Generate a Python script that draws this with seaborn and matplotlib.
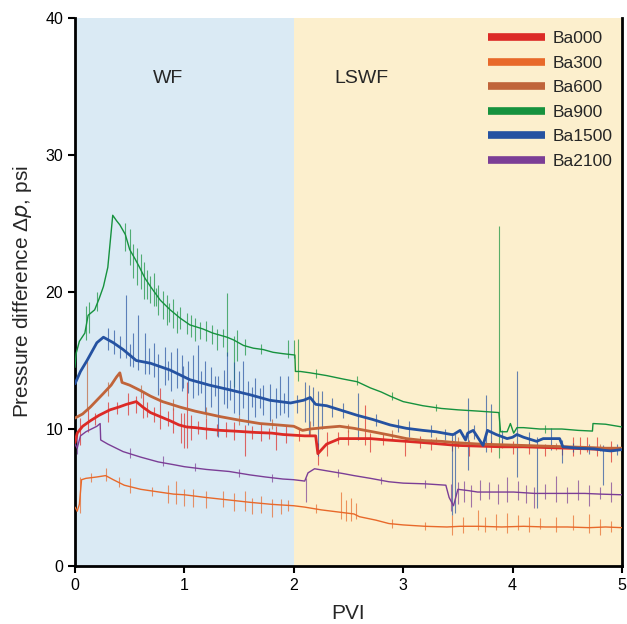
import matplotlib
matplotlib.use("Agg")
import matplotlib.pyplot as plt
from matplotlib.lines import Line2D
import seaborn as sns
import pandas as pd

# --- data (PVI vs pressure difference, psi) ---
ba000_x = [0.00, 0.02, 0.07, 0.14, 0.22, 0.32, 0.40, 0.47, 0.56, 0.62, 0.69, 0.78, 0.87, 0.95, 1.02,
           1.10, 1.20, 1.33, 1.45, 1.55, 1.65, 1.80, 1.90, 2.00, 2.10, 2.20, 2.22, 2.30, 2.42, 2.55,
           2.70, 2.85, 3.03, 3.20, 3.35, 3.50, 3.70, 3.90, 4.10, 4.30, 4.50, 4.70, 4.85, 5.00]
ba000_y = [9.0, 9.7, 10.2, 10.6, 11.0, 11.4, 11.6, 11.8, 12.0, 11.6, 11.2, 10.9, 10.6, 10.3, 10.15,
           10.1, 10.0, 9.9, 9.85, 9.8, 9.75, 9.7, 9.6, 9.55, 9.5, 9.5, 8.2, 8.9, 9.3, 9.3,
           9.3, 9.2, 9.1, 9.0, 8.9, 8.8, 8.75, 8.7, 8.7, 8.65, 8.6, 8.55, 8.5, 8.5]

ba300_x = [0.00, 0.02, 0.04, 0.06, 0.10, 0.20, 0.28, 0.35, 0.45, 0.60, 0.77, 0.90, 1.00, 1.20, 1.43,
           1.60, 1.80, 2.00, 2.10, 2.25, 2.40, 2.55, 2.60, 2.75, 2.87, 3.00, 3.20, 3.40, 3.52, 3.70,
           3.90, 4.10, 4.30, 4.50, 4.70, 4.85, 5.00]
ba300_y = [4.3, 4.0, 4.5, 6.3, 6.4, 6.5, 6.6, 6.3, 5.9, 5.6, 5.4, 5.25, 5.2, 5.0, 4.8,
           4.65, 4.5, 4.4, 4.3, 4.1, 3.95, 3.8, 3.6, 3.35, 3.1, 3.0, 2.9, 2.85, 2.9, 2.9,
           2.85, 2.9, 2.85, 2.85, 2.8, 2.85, 2.8]

ba600_x = [0.00, 0.07, 0.14, 0.20, 0.26, 0.33, 0.38, 0.41, 0.43, 0.50, 0.60, 0.69, 0.80, 0.96, 1.10,
           1.33, 1.50, 1.69, 1.85, 2.00, 2.08, 2.15, 2.27, 2.42, 2.55, 2.72, 2.88, 3.03, 3.20, 3.35,
           3.49, 3.70, 3.90, 4.10, 4.30, 4.50, 4.70, 4.85, 5.00]
ba600_y = [10.8, 11.1, 11.6, 12.1, 12.6, 13.2, 13.8, 14.1, 13.4, 13.2, 12.8, 12.4, 12.0, 11.6, 11.3,
           10.9, 10.65, 10.4, 10.3, 10.2, 9.9, 10.0, 10.1, 10.2, 10.05, 9.8, 9.55, 9.3, 9.15, 9.1,
           9.0, 8.9, 8.85, 8.8, 8.75, 8.7, 8.65, 8.6, 8.6]

ba900_x = [0.00, 0.01, 0.04, 0.09, 0.12, 0.18, 0.22, 0.26, 0.30, 0.345, 0.38, 0.41, 0.46, 0.50, 0.55,
           0.59, 0.64, 0.69, 0.78, 0.87, 0.96, 1.05, 1.17, 1.26, 1.39, 1.45, 1.54, 1.63, 1.72, 1.81,
           1.90, 2.01, 2.015, 2.06, 2.15, 2.30, 2.45, 2.58, 2.70, 2.80, 2.88, 3.00, 3.18, 3.35, 3.50,
           3.70, 3.875, 3.89, 3.95, 3.98, 4.01, 4.04, 4.10, 4.25, 4.45, 4.60, 4.73, 4.735,
           4.85, 5.00]
ba900_y = [14.5, 15.5, 16.4, 17.0, 18.3, 18.7, 19.5, 20.4, 21.8, 25.6, 25.2, 24.9, 24.2, 23.1, 22.4,
           21.8, 21.0, 20.4, 19.4, 18.7, 18.1, 17.6, 17.3, 17.0, 16.7, 16.5, 16.1, 15.9, 15.8, 15.6,
           15.5, 15.4, 14.2, 14.2, 14.1, 13.9, 13.65, 13.45, 13.0, 12.7, 12.4, 12.0, 11.7, 11.5, 11.4,
           11.3, 11.2, 9.8, 9.8, 10.4, 9.7, 10.1, 10.1, 10.0, 10.0, 9.9, 9.85, 10.4,
           10.35, 10.15]

ba1500_x = [0.00, 0.05, 0.11, 0.20, 0.26, 0.35, 0.44, 0.56, 0.69, 0.87, 1.05, 1.23, 1.42, 1.60, 1.78,
            1.97, 2.09, 2.15, 2.20, 2.30, 2.42, 2.58, 2.72, 2.88, 3.03, 3.18, 3.30, 3.44, 3.46, 3.52,
            3.57, 3.59, 3.64, 3.73, 3.77, 3.85, 3.95, 4.00, 4.04, 4.10, 4.22, 4.28, 4.43, 4.46, 4.60,
            4.75, 4.83, 4.90, 5.00]
ba1500_y = [13.3, 14.2, 15.0, 16.3, 16.7, 16.3, 15.8, 15.0, 14.8, 14.3, 13.6, 13.2, 12.85, 12.5, 12.1,
            11.9, 12.1, 12.3, 11.8, 11.7, 11.4, 11.0, 10.7, 10.3, 10.05, 9.9, 9.8, 9.6, 9.6, 9.9,
            9.2, 9.7, 9.9, 8.8, 9.9, 9.6, 9.3, 9.4, 9.6, 9.4, 9.1, 9.3, 9.3, 8.7, 8.6,
            8.55, 8.45, 8.4, 8.5]

ba2100_x = [0.00, 0.02, 0.05, 0.10, 0.15, 0.20, 0.23, 0.235, 0.30, 0.44, 0.60, 0.76, 0.90, 1.00, 1.20,
            1.41, 1.60, 1.74, 1.90, 2.00, 2.10, 2.13, 2.19, 2.30, 2.45, 2.55, 2.70, 2.87, 3.00, 3.20,
            3.39, 3.42, 3.46, 3.50, 3.60, 3.68, 3.85, 4.01, 4.20, 4.33, 4.50, 4.66, 4.80, 5.00]
ba2100_y = [8.9, 8.6, 9.5, 9.8, 10.0, 10.2, 10.4, 9.2, 8.9, 8.35, 7.95, 7.6, 7.4, 7.25, 7.05,
            6.9, 6.65, 6.5, 6.35, 6.3, 6.2, 6.8, 7.1, 6.95, 6.75, 6.6, 6.4, 6.15, 6.05, 6.0,
            5.9, 5.0, 4.4, 5.6, 5.5, 5.4, 5.4, 5.4, 5.3, 5.3, 5.3, 5.3, 5.25, 5.2]

# spikes / noise (x, low, high)
ba000_spikes = [(0.05, 8.8, 10.8), (0.12, 9.8, 11.5), (0.18, 10.3, 11.2), (0.30, 10.5, 12.0),
                (0.38, 11.1, 12.0), (0.48, 11.0, 12.6), (0.56, 11.2, 12.4), (0.62, 10.8, 12.8),
                (0.66, 10.9, 12.0), (0.72, 10.5, 11.6), (0.78, 10.0, 13.0), (0.85, 10.2, 11.3),
                (0.90, 9.7, 11.5), (0.97, 9.0, 11.2), (1.00, 8.6, 11.2), (1.02, 8.6, 13.45),
                (1.06, 9.2, 11.0), (1.12, 9.6, 10.6), (1.20, 9.3, 10.8), (1.30, 9.5, 10.4),
                (1.38, 9.4, 10.5), (1.45, 9.2, 10.5), (1.55, 8.0, 10.3), (1.62, 9.3, 10.2),
                (1.70, 9.1, 10.4), (1.77, 9.3, 10.1), (1.84, 8.5, 10.2), (1.93, 9.0, 10.2),
                (2.05, 9.1, 10.0), (2.22, 7.4, 9.0), (2.30, 8.0, 9.8), (2.40, 8.9, 9.8),
                (2.50, 8.8, 9.9), (2.65, 8.8, 11.75), (2.70, 8.3, 9.7), (2.82, 8.8, 9.6),
                (3.02, 8.0, 9.4), (3.15, 8.6, 9.5), (3.25, 8.5, 9.3), (3.45, 8.4, 9.2),
                (3.60, 8.0, 9.2), (3.80, 8.3, 9.1), (4.00, 8.2, 9.1), (4.15, 8.2, 9.0),
                (4.30, 8.0, 8.9), (4.45, 8.1, 8.9), (4.55, 8.0, 9.4), (4.62, 8.2, 9.4),
                (4.68, 8.3, 9.4), (4.77, 8.0, 9.4), (4.90, 7.6, 9.1)]
ba300_spikes = [(0.05, 3.9, 6.5), (0.15, 6.1, 6.8), (0.28, 6.2, 7.15), (0.40, 5.8, 6.5),
                (0.50, 5.3, 6.4), (0.70, 5.1, 5.8), (0.85, 4.6, 5.9), (0.92, 4.5, 6.2),
                (1.00, 4.4, 5.6), (1.08, 4.3, 5.6), (1.20, 4.2, 5.5), (1.35, 4.3, 5.5),
                (1.45, 4.0, 5.3), (1.55, 4.0, 5.5), (1.62, 3.8, 5.0), (1.70, 3.9, 5.1),
                (1.80, 3.6, 4.9), (1.88, 3.8, 4.9), (1.95, 4.0, 4.8), (2.20, 3.9, 4.5),
                (2.43, 3.4, 5.4), (2.48, 3.3, 4.8), (2.52, 3.3, 5.0), (2.57, 3.4, 4.6),
                (2.90, 2.8, 3.4), (3.20, 2.6, 3.2), (3.45, 2.3, 3.7), (3.55, 2.4, 3.6),
                (3.68, 2.6, 4.1), (3.75, 2.5, 3.6), (3.85, 2.6, 3.8), (3.95, 2.4, 3.9),
                (4.05, 2.6, 3.7), (4.15, 2.5, 3.6), (4.25, 2.7, 3.5), (4.40, 2.5, 3.6),
                (4.55, 2.6, 3.7), (4.70, 2.4, 3.8), (4.80, 2.3, 3.4), (4.90, 2.5, 3.3)]
ba600_spikes = [(0.11, 11.5, 15.0), (0.30, 12.4, 13.4), (0.60, 12.3, 13.2), (0.90, 11.4, 12.2),
                (1.20, 10.8, 11.6), (1.50, 10.3, 11.0), (1.80, 10.0, 10.7), (2.15, 9.5, 10.6),
                (2.50, 9.8, 10.4), (2.90, 9.3, 9.9), (3.30, 8.9, 9.4), (3.50, 8.6, 9.4),
                (3.90, 8.6, 9.1), (4.40, 8.5, 9.0), (4.80, 8.4, 8.9)]
ba900_spikes = [(0.10, 16.5, 19.0), (0.13, 17.0, 19.3), (0.20, 18.6, 20.0), (0.46, 23.0, 25.0),
                (0.50, 22.0, 24.6), (0.53, 21.0, 23.5), (0.57, 20.5, 23.2), (0.60, 20.2, 22.8),
                (0.63, 19.5, 22.2), (0.66, 19.5, 21.6), (0.69, 19.2, 21.2), (0.72, 19.0, 21.4),
                (0.74, 19.0, 20.3), (0.76, 18.3, 20.5), (0.80, 18.0, 20.1), (0.84, 17.6, 19.8),
                (0.86, 17.8, 19.2), (0.90, 17.4, 19.5), (0.93, 17.0, 18.6), (0.96, 17.3, 18.9),
                (1.02, 16.9, 18.5), (1.06, 16.7, 18.3), (1.10, 16.4, 18.1), (1.14, 16.6, 17.8),
                (1.20, 16.4, 17.9), (1.25, 16.2, 17.6), (1.30, 15.8, 17.3), (1.35, 16.0, 17.3),
                (1.39, 15.3, 19.9), (1.45, 13.1, 16.8), (1.48, 15.0, 17.2), (1.55, 15.4, 16.6),
                (1.70, 15.5, 16.2), (1.95, 15.2, 16.5), (2.00, 15.2, 16.5), (2.04, 13.5, 16.6),
                (2.20, 13.7, 14.4), (2.58, 13.2, 13.9), (2.90, 12.1, 12.7), (3.30, 11.3, 11.8),
                (3.88, 7.9, 24.8), (4.30, 9.7, 10.3)]
ba1500_spikes = [(0.30, 15.8, 17.4), (0.36, 15.5, 17.2), (0.41, 15.2, 16.8), (0.47, 15.2, 19.8),
                 (0.50, 14.6, 16.2), (0.53, 14.5, 17.0), (0.58, 14.3, 18.3), (0.64, 14.0, 17.0),
                 (0.68, 14.0, 15.9), (0.72, 13.8, 16.3), (0.76, 12.5, 15.5), (0.82, 13.2, 16.0),
                 (0.85, 13.6, 15.0), (0.88, 12.8, 15.6), (0.93, 13.0, 15.9), (0.975, 12.8, 15.4),
                 (0.99, 13.0, 14.6), (1.03, 12.6, 15.0), (1.08, 12.3, 15.4), (1.12, 12.5, 16.1),
                 (1.15, 12.6, 14.2), (1.19, 11.2, 15.0), (1.24, 11.6, 14.5), (1.28, 12.4, 13.9),
                 (1.31, 9.4, 13.9), (1.36, 11.8, 14.3), (1.39, 11.5, 15.6), (1.42, 12.1, 13.6),
                 (1.45, 11.2, 14.9), (1.50, 11.0, 14.2), (1.54, 11.5, 15.0), (1.58, 10.3, 13.5),
                 (1.62, 11.6, 13.1), (1.65, 10.9, 13.7), (1.69, 11.5, 13.0), (1.72, 11.0, 13.2),
                 (1.78, 10.6, 13.3), (1.84, 10.8, 13.0), (1.87, 11.0, 13.9), (1.91, 11.2, 12.6),
                 (1.95, 10.9, 13.9), (2.03, 11.2, 12.5), (2.10, 10.5, 13.45), (2.14, 9.5, 13.2),
                 (2.18, 10.2, 13.1), (2.22, 8.0, 12.8), (2.26, 10.0, 12.8), (2.35, 10.9, 12.3),
                 (2.45, 10.8, 11.9), (2.59, 9.2, 12.6), (2.75, 10.2, 11.1), (2.95, 9.8, 10.7),
                 (3.05, 9.4, 10.6), (3.25, 9.4, 10.3), (3.38, 9.2, 10.0), (3.45, 3.7, 9.6),
                 (3.47, 3.9, 9.6), (3.59, 7.0, 12.3), (3.65, 9.3, 10.3), (3.76, 8.3, 12.5),
                 (3.80, 8.8, 11.8), (3.90, 9.0, 9.9), (4.04, 6.5, 14.2), (4.15, 8.9, 9.8),
                 (4.22, 4.2, 9.4), (4.35, 8.5, 10.1), (4.45, 7.5, 9.2), (4.55, 8.3, 9.0),
                 (4.70, 8.2, 8.9), (4.83, 5.9, 8.8), (4.95, 8.1, 8.9)]
ba2100_spikes = [(0.02, 8.2, 9.6), (0.50, 7.9, 8.6), (0.80, 7.3, 8.0), (1.10, 6.9, 7.5),
                 (1.50, 6.5, 7.1), (1.80, 6.1, 6.7), (2.11, 4.7, 6.4), (2.40, 6.5, 7.1),
                 (2.80, 6.0, 6.5), (3.20, 5.7, 6.3), (3.44, 4.0, 6.0), (3.50, 4.5, 6.1),
                 (3.56, 4.7, 6.2), (3.62, 4.3, 5.9), (3.70, 4.8, 6.3), (3.78, 4.9, 6.1),
                 (3.87, 4.5, 6.0), (3.95, 4.7, 6.5), (4.05, 4.8, 6.2), (4.12, 4.6, 5.9),
                 (4.20, 4.2, 5.8), (4.30, 4.9, 6.0), (4.40, 4.7, 6.6), (4.50, 4.6, 5.8),
                 (4.60, 4.8, 6.3), (4.70, 4.4, 5.9), (4.80, 4.9, 5.8), (4.90, 4.7, 6.1)]

labels = ["Ba000", "Ba300", "Ba600", "Ba900", "Ba1500", "Ba2100"]
colors = ["#dc2a26", "#e8692a", "#c0643a", "#16923e", "#2552a1", "#7b3e96"]
widths = [2.0, 1.0, 2.0, 1.0, 2.0, 1.0]

series_x = [ba000_x, ba300_x, ba600_x, ba900_x, ba1500_x, ba2100_x]
series_y = [ba000_y, ba300_y, ba600_y, ba900_y, ba1500_y, ba2100_y]
series_spikes = [ba000_spikes, ba300_spikes, ba600_spikes, ba900_spikes, ba1500_spikes, ba2100_spikes]

# tabel panjang buat seaborn
frames = []
for lab, xs, ys in zip(labels, series_x, series_y):
    frames.append(pd.DataFrame({"PVI": xs, "dp": ys, "series": lab}))
df = pd.concat(frames, ignore_index=True)

sns.set_theme(style="ticks")
plt.rcParams["font.family"] = ["Liberation Sans", "DejaVu Sans"]

fig = plt.figure(figsize=(6.27, 6.24), dpi=100)
ax = fig.add_axes([0.1196, 0.0929, 0.8724, 0.8783])

# latar belakang WF / LSWF
ax.axvspan(0, 2, color="#daeaf4", lw=0, zorder=0)
ax.axvspan(2, 5, color="#fcefcd", lw=0, zorder=0)

# spikes dulu (lebih tipis), baru garis utama
for lab, col, spk in zip(labels, colors, series_spikes):
    sx = [s[0] for s in spk]
    lo = [s[1] for s in spk]
    hi = [s[2] for s in spk]
    ax.vlines(sx, lo, hi, colors=col, lw=0.8, alpha=0.7, zorder=2)

for lab, col, lw in zip(labels, colors, widths):
    sns.lineplot(data=df[df["series"] == lab], x="PVI", y="dp", color=col, lw=lw,
                 sort=False, estimator=None, ax=ax, zorder=3, legend=False)

ax.set_xlim(0, 5)
ax.set_ylim(0, 40)
ax.set_xticks([0, 1, 2, 3, 4, 5])
ax.set_yticks([0, 10, 20, 30, 40])
ax.tick_params(axis="both", direction="out", length=5, width=1.5, labelsize=11.5, colors="black")
ax.set_xlabel("PVI", fontsize=15, labelpad=8)
ax.set_ylabel("Pressure difference Δ$p$, psi", fontsize=15, labelpad=8)

for side in ["left", "bottom", "right"]:
    ax.spines[side].set_linewidth(2)
    ax.spines[side].set_color("black")
ax.spines["top"].set_visible(False)

ax.text(0.85, 35.6, "WF", fontsize=14, ha="center", va="center")
ax.text(2.62, 35.6, "LSWF", fontsize=14, ha="center", va="center")

handles = [Line2D([0], [0], color=c, lw=5.5, solid_capstyle="butt") for c in colors]
ax.legend(handles, labels, loc="upper left", bbox_to_anchor=(0.742, 0.989), frameon=False,
          fontsize=12.5, handlelength=3.3, handletextpad=0.45, labelspacing=0.54,
          borderaxespad=0.0)

fig.savefig("out.png", dpi=100)
